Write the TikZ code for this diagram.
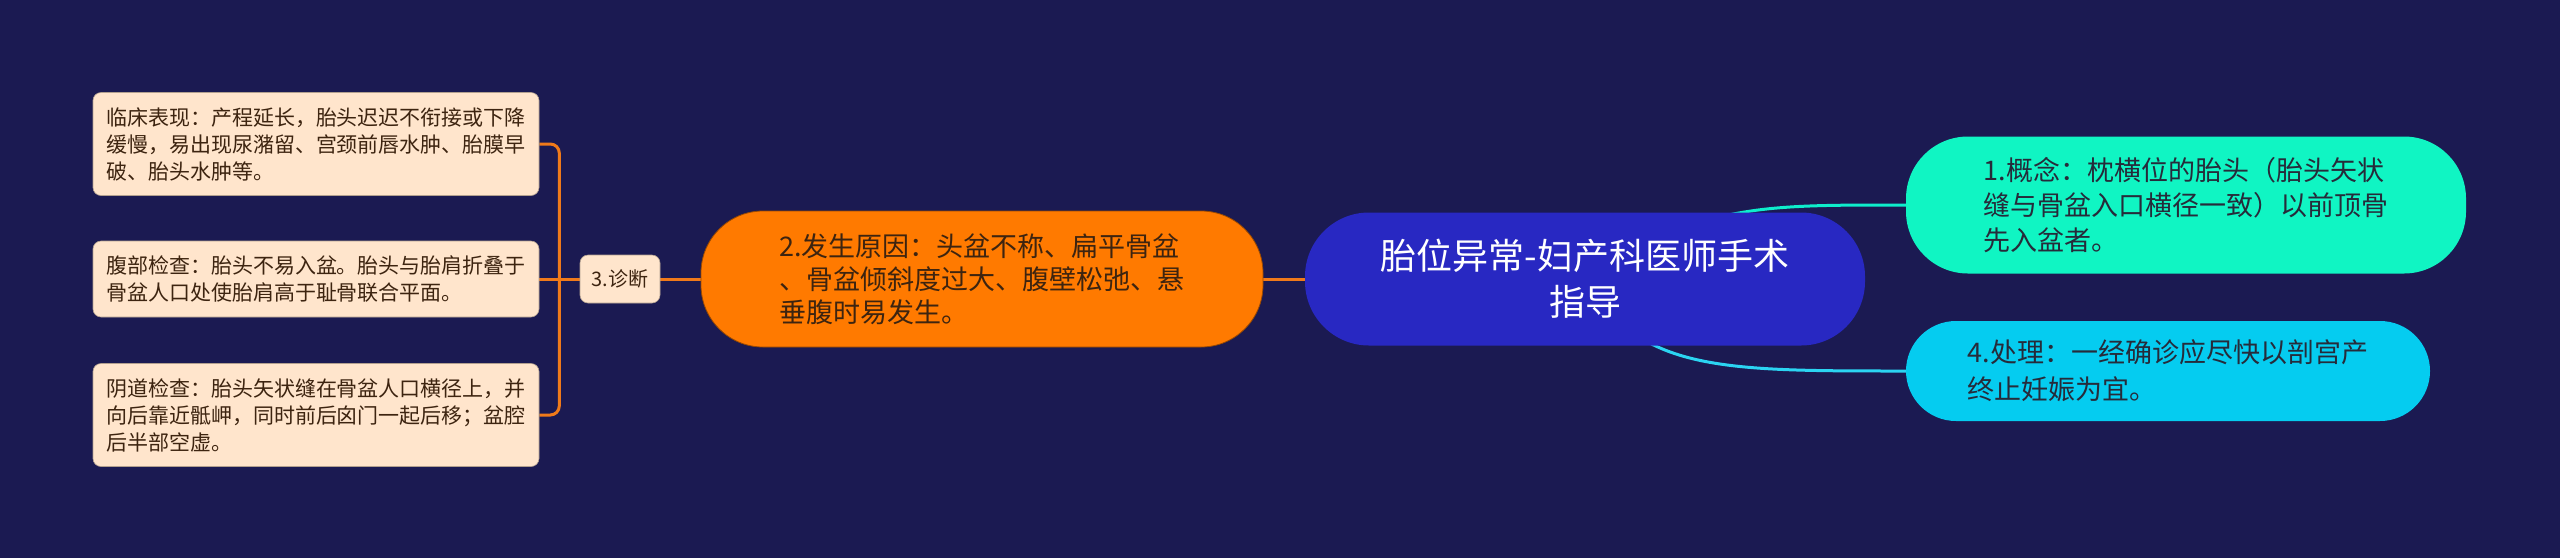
\documentclass[tikz,border=0pt]{standalone}
\usepackage{fontspec}
\setmainfont{Noto Sans CJK SC}
\usetikzlibrary{positioning}
\definecolor{bgnavy}{HTML}{1B1A52}
\definecolor{rootblue}{HTML}{2828C2}
\definecolor{causeorange}{HTML}{FF7A00}
\definecolor{conceptgreen}{HTML}{10F5C3}
\definecolor{treatcyan}{HTML}{05CCF0}
\definecolor{leafpeach}{HTML}{FFE5CC}
\definecolor{leaftext}{HTML}{3D2410}
\definecolor{darktext}{HTML}{262B3A}
\definecolor{branchline}{HTML}{F07A1A}
\pgfdeclarelayer{bg}
\pgfdeclarelayer{edges}
\pgfsetlayers{bg,edges,main}

\begin{document}
\begin{tikzpicture}[
    x=1pt, y=-1pt,
    leaf/.style={%
      rectangle, rounded corners=8pt, fill=leafpeach, draw=leafpeach!70!black,
      line width=0.6pt, inner sep=0pt, text=leaftext, align=left,
      font=\fontsize{21}{27}\selectfont,
    },
    topic/.style={%
      rectangle, rounded corners=62pt, inner sep=0pt, align=left,
      text=darktext, font=\fontsize{27}{35}\selectfont,
    },
    orangeline/.style={draw=branchline, line width=3pt},
  ]

    \begin{pgfonlayer}{bg}
      \fill [bgnavy] (0,0) rectangle (2560,558);
    \end{pgfonlayer}

    \node [rectangle, rounded corners=64pt, fill=rootblue, inner sep=0pt,
      minimum width=560pt, minimum height=133pt, align=center, text=white,
      font=\fontsize{36}{46}\selectfont] (root) at (1585,279)
      {胎位异常-妇产科医师手术\\指导};
    \node [topic, fill=conceptgreen, minimum width=560pt, minimum height=137pt]
      (concept) at (2186,205)
      {1.概念：枕横位的胎头（胎头矢状\\缝与骨盆入口横径一致）以前顶骨\\先入盆者。};
    \node [topic, fill=treatcyan, rounded corners=50pt, minimum width=524pt,
      minimum height=100pt, font=\fontsize{27}{37}\selectfont]
      (treat) at (2168,371)
      {4.处理：一经确诊应尽快以剖宫产\\终止妊娠为宜。};
    \node [topic, fill=causeorange, draw=causeorange!60!black, line width=0.8pt,
      text=leaftext, minimum width=562pt, minimum height=136pt,
      font=\fontsize{27}{33}\selectfont] (cause) at (982,279)
      {2.发生原因：头盆不称、扁平骨盆\\、骨盆倾斜度过大、腹壁松弛、悬\\垂腹时易发生。};
    \node [leaf, minimum width=80pt, minimum height=48pt,
      font=\fontsize{20}{24}\selectfont] (diag) at (620,279) {3.诊断};
    \node [leaf, minimum width=446pt, minimum height=103pt] (clinic) at (316,144)
      {临床表现：产程延长，胎头迟迟不衔接或下降\\缓慢，易出现尿潴留、宫颈前唇水肿、胎膜早\\破、胎头水肿等。};
    \node [leaf, minimum width=446pt, minimum height=76pt] (abdomen) at (316,279)
      {腹部检查：胎头不易入盆。胎头与胎肩折叠于\\骨盆人口处使胎肩高于耻骨联合平面。};
    \node [leaf, minimum width=446pt, minimum height=103pt] (vagina) at (316,415)
      {阴道检查：胎头矢状缝在骨盆人口横径上，并\\向后靠近骶岬，同时前后囟门一起后移；盆腔\\后半部空虚。};

    \begin{pgfonlayer}{edges}
      \draw [draw=conceptgreen!80!treatcyan, line width=3pt]
        (root.center) .. controls +(120,-75) and +(-150,0) .. (concept.west);
      \draw [draw=treatcyan!85!white, line width=3pt]
        (root.center) .. controls +(55,92) and +(-187,0) .. (treat.west);
      \draw [orangeline] (root.west) -- (cause.east);
      \draw [orangeline] (cause.west) -- (diag.east);
      \draw [orangeline] (diag.west) -- (abdomen.east);
      \draw [orangeline, rounded corners=9pt]
        (clinic.east) -- ++(20,0) |- (vagina.east);
    \end{pgfonlayer}
\end{tikzpicture}
\end{document}
